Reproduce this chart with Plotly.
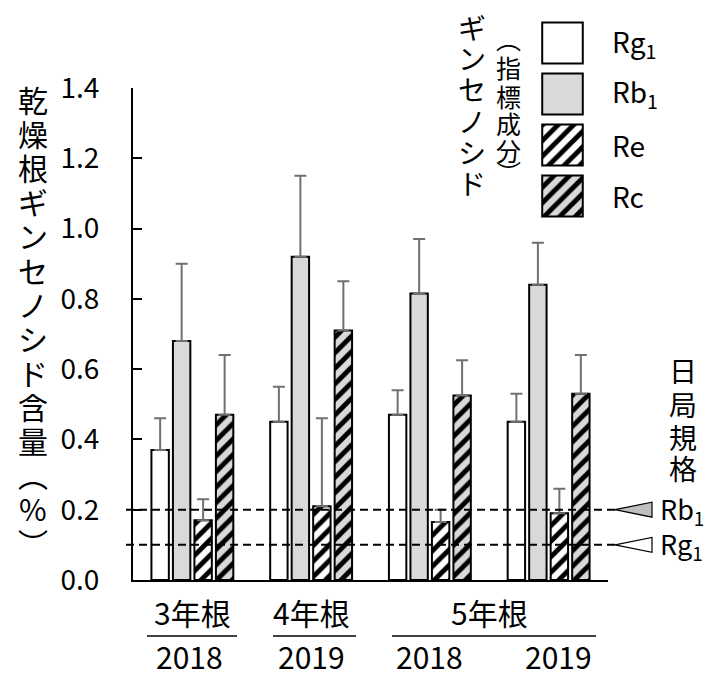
import plotly.graph_objects as go

# --- data ---
ages = ["3年根", "4年根", "5年根", "5年根"]
years = ["2018", "2019", "2018", "2019"]
categories = [f"{a} {y}" for a, y in zip(ages, years)]

components = ["Rg<sub>1</sub>", "Rb<sub>1</sub>", "Re", "Rc"]
means = {
    "Rg1": [0.37, 0.45, 0.47, 0.45],
    "Rb1": [0.68, 0.92, 0.815, 0.84],
    "Re":  [0.17, 0.21, 0.165, 0.19],
    "Rc":  [0.47, 0.71, 0.525, 0.53],
}
errors = {
    "Rg1": [0.09, 0.10, 0.07, 0.08],
    "Rb1": [0.22, 0.23, 0.155, 0.12],
    "Re":  [0.06, 0.25, 0.035, 0.07],
    "Rc":  [0.17, 0.14, 0.10, 0.11],
}
standard_labels = ["Rb<sub>1</sub>", "Rg<sub>1</sub>"]
standard_values = [0.2, 0.1]
y_ticks = [0.0, 0.2, 0.4, 0.6, 0.8, 1.0, 1.2, 1.4]

# --- styling ---
FONT = "Noto Sans CJK JP"
GRAY = "#d9d9d9"
ERR = "#707070"
W, H = 711, 673
L, R, T, B = 133, 103, 10, 93
PLOT_TOP = 88

def px(x):
    return (x - L) / (W - L - R)

def py(y):
    return (H - B - y) / (H - B - T)

def stripes(bg):
    return dict(shape="/", fgcolor="black", bgcolor=bg, fgopacity=1,
                size=11, solidity=0.45, fillmode="replace")

styles = {
    "Rg1": dict(color="white"),
    "Rb1": dict(color=GRAY),
    "Re": dict(color="white", pattern=stripes("white")),
    "Rc": dict(color=GRAY, pattern=stripes(GRAY)),
}

fig = go.Figure()
for key in ["Rg1", "Rb1", "Re", "Rc"]:
    fig.add_trace(go.Bar(
        x=categories, y=means[key], name=key,
        marker=dict(line=dict(color="black", width=2), **styles[key]),
        error_y=dict(type="data", array=errors[key], arrayminus=[0] * 4, symmetric=False,
                     color=ERR, thickness=2, width=6),
        showlegend=False,
    ))

# legend swatches drawn as bars on a small overlay axis
legend_keys = ["Rg1", "Rb1", "Re", "Rc"]
for key in legend_keys:
    fig.add_trace(go.Bar(
        x=[1], y=[key], orientation="h", base=0, width=0.8,
        marker=dict(line=dict(color="black", width=2), **styles[key]),
        xaxis="x2", yaxis="y2", showlegend=False, hoverinfo="skip",
    ))

fig.update_layout(
    width=W, height=H,
    margin=dict(l=L, r=R, t=T, b=B, autoexpand=False),
    paper_bgcolor="white", plot_bgcolor="white",
    barmode="group", bargap=0.276, bargroupgap=0.19,
    font=dict(family=FONT, color="black", size=27),
    xaxis=dict(type="category", range=[-0.5, 3.5], showticklabels=False, ticks="",
               showline=True, linecolor="black", linewidth=2, showgrid=False, zeroline=False,
               automargin=False),
    yaxis=dict(range=[0, 1.4], domain=[0, py(PLOT_TOP)], tickvals=y_ticks,
               ticktext=[f"{v:.1f}" for v in y_ticks], ticks="inside", ticklen=9, tickwidth=2,
               tickcolor="black", showline=True, linecolor="black", linewidth=2,
               showgrid=False, zeroline=False, ticklabelstandoff=26, automargin=False,
               tickfont=dict(size=28, family=FONT)),
    xaxis2=dict(domain=[px(541), px(584)], range=[-0.03, 1.03], visible=False, anchor="y2",
                automargin=False),
    yaxis2=dict(domain=[py(221.5), py(17.5)], type="category", categoryorder="array",
                categoryarray=legend_keys, autorange="reversed", visible=False, anchor="x2",
                automargin=False),
)

annotations = []
shapes = []

# standard (日局規格) reference lines and markers
for lab, val, fill in zip(standard_labels, standard_values, ["#bfbfbf", "white"]):
    shapes.append(dict(type="line", xref="paper", yref="y", x0=px(126), x1=px(615),
                       y0=val, y1=val, line=dict(color="black", width=2, dash="8px,5px"),
                       layer="above"))
    dy = 7.5 / 351.4
    shapes.append(dict(type="path", xref="paper", yref="y",
                       path=f"M {px(615)},{val} L {px(652)},{val + dy} L {px(652)},{val - dy} Z",
                       fillcolor=fill, line=dict(color="black", width=1.2)))
    annotations.append(dict(xref="paper", yref="y", x=px(658), y=val, text=lab,
                            showarrow=False, xanchor="left", yanchor="middle",
                            font=dict(size=27)))

# legend labels
for lab, yc in zip(components, [43, 93, 145, 196]):
    annotations.append(dict(xref="paper", yref="paper", x=px(610), y=py(yc), text=lab,
                            showarrow=False, xanchor="left", yanchor="middle",
                            font=dict(size=28)))

def vtext(chars, x, centers, size):
    for c, yc in zip(chars, centers):
        annotations.append(dict(xref="paper", yref="paper", x=px(x), y=py(yc), text=c,
                                showarrow=False, xanchor="center", yanchor="middle",
                                font=dict(size=size)))

# y-axis title, written vertically
ytitle = list("乾燥根ギンセノシド含量") + ["︵", "%", "︶"]
vtext(ytitle, 33, [99 + i * 34.1 for i in range(len(ytitle))], 30)

# legend title (vertical)
vtext(list("ギンセノシド"), 472, [27 + i * 31.2 for i in range(6)], 28)
vtext(["︵", "指", "標", "成", "分", "︶"], 508, [38, 67, 96, 123, 150, 172], 25)

# 日局規格
vtext(list("日局規格"), 683, [370, 404, 437, 468], 28)

# x labels: age (top row), underline, year (bottom row)
age_groups = [("3年根", [0]), ("4年根", [1]), ("5年根", [2, 3])]
underline_px = [(147, 237), (273, 356), (392, 596)]
for (age, idx), (u0, u1) in zip(age_groups, underline_px):
    xc = sum(idx) / len(idx)
    annotations.append(dict(xref="x", yref="paper", x=xc, y=py(612), text=age,
                            showarrow=False, xanchor="center", yanchor="middle",
                            font=dict(size=30)))
    shapes.append(dict(type="line", xref="paper", yref="paper", x0=px(u0), x1=px(u1),
                       y0=py(636), y1=py(636), line=dict(color="black", width=1.5)))
for i, yr in enumerate(years):
    annotations.append(dict(xref="x", yref="paper", x=i, y=py(656), text=yr,
                            showarrow=False, xanchor="center", yanchor="middle",
                            xshift=(10 if i == 3 else -3 if i == 0 else 0),
                            font=dict(size=30)))

fig.update_layout(annotations=annotations, shapes=shapes)
fig.write_html("out.html")
